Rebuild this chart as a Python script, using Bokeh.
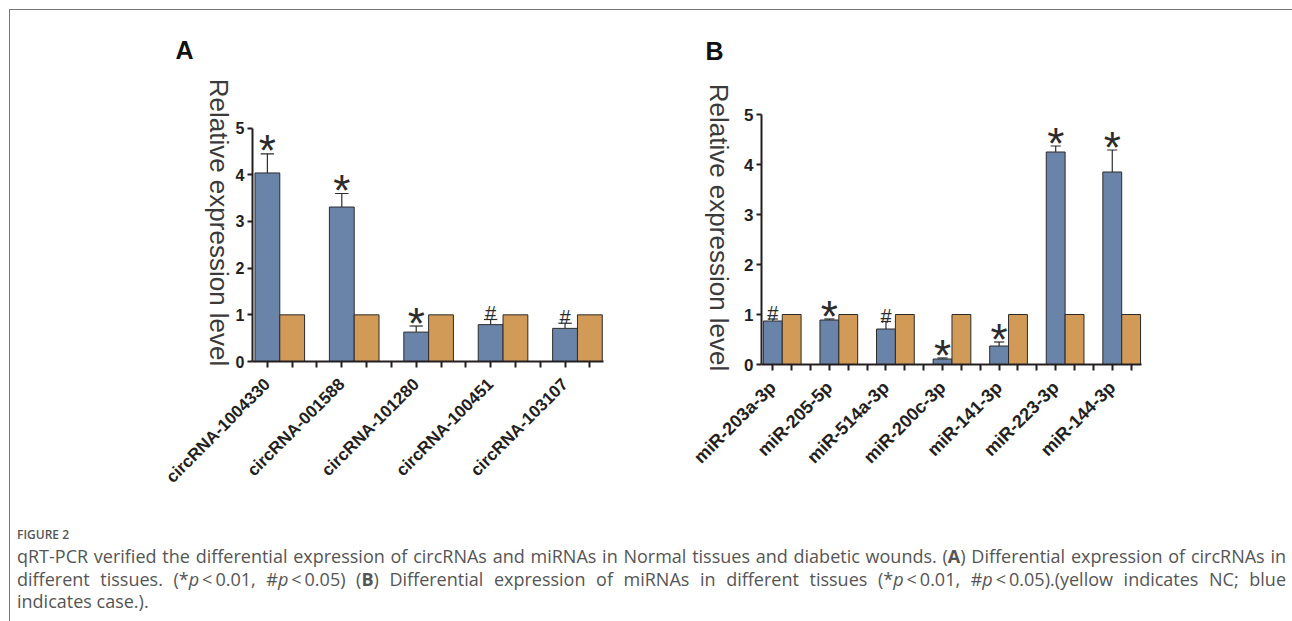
import math
from bokeh.plotting import figure
from bokeh.models import FixedTicker, Div, ColumnDataSource
from bokeh.layouts import row, column
from bokeh.embed import file_html
from bokeh.resources import INLINE
from bokeh.core.properties import value

# ---------------- data ----------------
circ_names = ["circRNA-1004330", "circRNA-001588", "circRNA-101280", "circRNA-100451", "circRNA-103107"]
circ_case = [4.04, 3.31, 0.63, 0.79, 0.71]
circ_err = [0.41, 0.29, 0.13, 0.11, 0.11]
circ_nc = [1.0, 1.0, 1.0, 1.0, 1.0]
circ_sig = ["*", "*", "*", "#", "#"]

mir_names = ["miR-203a-3p", "miR-205-5p", "miR-514a-3p", "miR-200c-3p", "miR-141-3p", "miR-223-3p", "miR-144-3p"]
mir_case = [0.87, 0.89, 0.71, 0.11, 0.37, 4.25, 3.85]
mir_err = [0.04, 0.02, 0.15, 0.02, 0.08, 0.12, 0.44]
mir_nc = [1.0, 1.0, 1.0, 1.0, 1.0, 1.0, 1.0]
mir_sig = ["#", "*", "#", "*", "*", "*", "*"]

y_ticks = [0, 1, 2, 3, 4, 5]
y_label = "Relative expression level"

BLUE = "#6a84a9"
ORANGE = "#d19a57"
DARK = "#231f20"
EDGE = "#2b2b2b"
FONT = "Liberation Sans"


def build(names, case, err, nc, sig, letter, geo, px_per_unit, letter_off, ylab_off,
          xlab_size, ylab_tick_size):
    # geo: axis_left, axis_right, y0 (page px) and canvas box (left, right, top, bottom)
    axis_left_px, axis_right_px, y0_px, c_left, c_right, c_top, c_bottom = geo
    n = len(names)
    nslots = 3 * n - 1
    xs_blue = [3 * i for i in range(n)]
    xs_org = [3 * i + 1 for i in range(n)]
    ax0, ax1 = -0.6, nslots - 0.45          # axis extent in slot units
    pps = (axis_right_px - axis_left_px) / (ax1 - ax0)   # px per slot
    xstart = ax0 - (axis_left_px - c_left) / pps
    xend = ax1 + (c_right - axis_right_px) / pps
    ystart = -(c_bottom - y0_px) / px_per_unit
    yend = (y0_px - c_top) / px_per_unit

    p = figure(frame_width=c_right - c_left, frame_height=c_bottom - c_top,
               x_range=(xstart, xend), y_range=(ystart, yend),
               output_backend="svg", toolbar_location=None,
               min_border_left=0, min_border_right=0, min_border_top=0, min_border_bottom=0)
    p.outline_line_color = None
    p.xgrid.visible = False
    p.ygrid.visible = False

    blue_src = ColumnDataSource(dict(x=xs_blue, top=case, etop=[c + e for c, e in zip(case, err)]))
    org_src = ColumnDataSource(dict(x=xs_org, top=nc))
    p.vbar(x="x", top="top", bottom=0, width=1.0, source=blue_src,
           fill_color=BLUE, line_color=EDGE, line_width=1)
    p.vbar(x="x", top="top", bottom=0, width=1.0, source=org_src,
           fill_color=ORANGE, line_color=EDGE, line_width=1)

    # error bars (upper only)
    p.segment(x0="x", y0="top", x1="x", y1="etop", source=blue_src, line_color=EDGE, line_width=1.2)
    cap_src = ColumnDataSource(dict(xa=[x - 0.27 for x in xs_blue], xb=[x + 0.27 for x in xs_blue],
                                    y=[c + e for c, e in zip(case, err)]))
    p.segment(x0="xa", y0="y", x1="xb", y1="y", source=cap_src, line_color=EDGE, line_width=1.2)

    # significance marks
    star_idx = [i for i in range(n) if sig[i] == "*"]
    hash_idx = [i for i in range(n) if sig[i] == "#"]
    star_src = ColumnDataSource(dict(x=[xs_blue[i] for i in star_idx],
                                     y=[case[i] + err[i] for i in star_idx],
                                     t=[sig[i] for i in star_idx]))
    hash_src = ColumnDataSource(dict(x=[xs_blue[i] for i in hash_idx],
                                     y=[case[i] + err[i] for i in hash_idx],
                                     t=[sig[i] for i in hash_idx]))
    p.text(x="x", y="y", text="t", source=star_src, text_font=value(FONT), text_font_size="44px",
           text_align="center", text_baseline="alphabetic", y_offset=-3, text_color=EDGE)
    p.text(x="x", y="y", text="t", source=hash_src, text_font=value(FONT), text_font_size="20px",
           text_align="center", text_baseline="alphabetic", y_offset=-6, text_color=EDGE)

    # panel letter and y-axis title (reads top to bottom, as in the original)
    p.text(x=[ax0], y=[5], text=[letter], x_offset=letter_off[0], y_offset=letter_off[1],
           text_font=value(FONT), text_font_style="bold", text_font_size="25px",
           text_color="#111111", text_align="left", text_baseline="top")
    p.text(x=[ax0], y=[0], text=[y_label], x_offset=ylab_off[0], y_offset=ylab_off[1],
           angle=-math.pi / 2, text_font=value(FONT), text_font_size="26px",
           text_color="#3a3a3a", text_align="center", text_baseline="middle")

    # axes
    overrides = {t: "" for t in range(nslots)}
    for i, nm in enumerate(names):
        overrides[xs_blue[i]] = nm
    xa = p.xaxis[0]
    xa.fixed_location = 0
    xa.ticker = FixedTicker(ticks=list(range(nslots)))
    xa.bounds = (ax0, ax1)
    xa.major_label_overrides = overrides
    xa.major_label_orientation = math.pi / 4
    xa.major_label_text_font = FONT
    xa.major_label_text_font_style = "bold"
    xa.major_label_text_font_size = xlab_size
    xa.major_label_text_color = DARK
    xa.major_label_standoff = 14
    xa.axis_line_width = 2
    xa.axis_line_color = DARK
    xa.major_tick_line_width = 2
    xa.major_tick_line_color = DARK
    xa.major_tick_out = 6
    xa.major_tick_in = 0
    xa.minor_tick_line_color = None

    ya = p.yaxis[0]
    ya.fixed_location = ax0
    ya.bounds = (0, 5)
    ya.ticker = FixedTicker(ticks=y_ticks)
    ya.major_label_text_font = FONT
    ya.major_label_text_font_style = "bold"
    ya.major_label_text_font_size = ylab_tick_size
    ya.major_label_text_color = DARK
    ya.major_label_standoff = 3
    ya.axis_line_width = 2
    ya.axis_line_color = DARK
    ya.major_tick_line_width = 2
    ya.major_tick_line_color = DARK
    ya.major_tick_out = 5
    ya.major_tick_in = 0
    ya.minor_tick_line_color = None
    return p


# geometry (page px): axis_left, axis_right, y0, canvas_left, canvas_right, canvas_top, canvas_bottom
geoA = (252, 603, 361, 10, 650, 10, 520)
geoB = (761, 1141, 364, 650, 1284, 10, 520)

pA = build(circ_names, circ_case, circ_err, circ_nc, circ_sig, "A", geoA, 46.67, (-77, -92), (-34, -139),
           "17px", "16px")
pB = build(mir_names, mir_case, mir_err, mir_nc, mir_sig, "B", geoB, 50.0, (-56, -78), (-43, -137),
           "18px", "17px")

line_style = ("font-size:18px; line-height:22.5px; white-space:nowrap; text-align:justify; "
              "text-align-last:justify;")
cap_html = (
    "<div style=\"font-family:'Open Sans'; color:#555555; width:1271px; padding-left:2px; padding-top:0px;\">"
    "<div style='font-size:12px; line-height:20px; font-weight:600;'>FIGURE 2</div>"
    f"<div style='{line_style}'>"
    "qRT-PCR verified the differential expression of circRNAs and miRNAs in Normal tissues and diabetic "
    "wounds. (<b>A</b>) Differential expression of circRNAs in</div>"
    f"<div style='{line_style}'>"
    "different tissues. (*<i>p</i>&thinsp;&lt;&thinsp;0.01, #<i>p</i>&thinsp;&lt;&thinsp;0.05) (<b>B</b>) "
    "Differential expression of miRNAs in different tissues (*<i>p</i>&thinsp;&lt;&thinsp;0.01, "
    "#<i>p</i>&thinsp;&lt;&thinsp;0.05).(yellow indicates NC; blue</div>"
    "<div style='font-size:18px; line-height:22.5px;'>indicates case.).</div>"
    "</div>"
)
caption = Div(text=cap_html, width=1282, height=100)

layout = column(row(pA, pB), caption,
                styles={"border-top": "1px solid #777777", "border-left": "1px solid #777777",
                        "margin-top": "9px", "margin-left": "9px"})

open("out.html", "w").write(file_html(layout, INLINE))
